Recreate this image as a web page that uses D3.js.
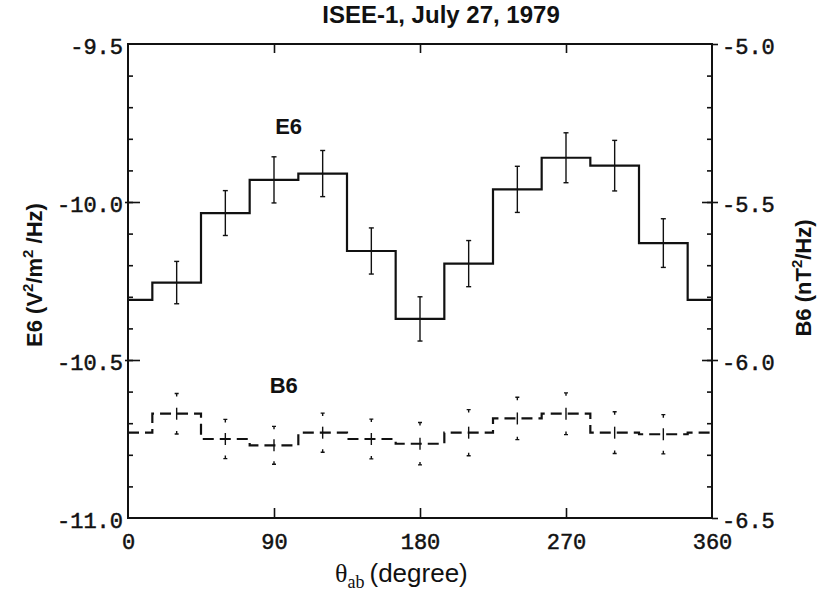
<!DOCTYPE html>
<html>
<head>
<meta charset="UTF-8">
<title>ISEE-1, July 27, 1979</title>
<script src="https://d3js.org/d3.v7.min.js"></script>
<style>
  body { margin: 0; background: #fff; }
  svg { display: block; }
  .tick text { font-family: "Liberation Mono", "Courier New", monospace; font-size: 22px; fill: #111; stroke: #111; stroke-width: 0.5; }
  .tick line { stroke: #111; stroke-width: 1.6; }
  .domain { display: none; }
  .lbl { font-family: "Liberation Sans", Arial, sans-serif; font-weight: bold; fill: #111; }
</style>
</head>
<body>
<div id="chart"></div>
<script>
// bin centres (degrees), each bin 30 degrees wide; the 0 bin wraps to 360
const angles = [0, 30, 60, 90, 120, 150, 180, 210, 240, 270, 300, 330];
// E6, log10 V^2/m^2/Hz (left axis)
const e6    = [-10.31, -10.255, -10.035, -9.93, -9.91, -10.155, -10.37, -10.195, -9.96, -9.86, -9.885, -10.13];
const e6Err = [null, 0.067, 0.071, 0.073, 0.073, 0.073, 0.070, 0.073, 0.073, 0.079, 0.080, 0.077];
// B6, log10 nT^2/Hz (right axis)
const b6    = [-6.23, -6.17, -6.25, -6.27, -6.23, -6.25, -6.265, -6.23, -6.185, -6.17, -6.23, -6.235];
const b6Err = [null, 0.064, 0.062, 0.060, 0.062, 0.063, 0.067, 0.073, 0.067, 0.066, 0.066, 0.062];

const xTicks = [0, 90, 180, 270, 360];
const leftTicks = [-11.0, -10.5, -10.0, -9.5];
const rightTicks = [-6.5, -6.0, -5.5, -5.0];

const W = 818, H = 594;
const m = { left: 128, right: 712, top: 44, bottom: 518 };

const x = d3.scaleLinear([0, 360], [m.left, m.right]);
const yL = d3.scaleLinear([-11.0, -9.5], [m.bottom, m.top]);
const yR = d3.scaleLinear([-6.5, -5.0], [m.bottom, m.top]);

const svg = d3.select("#chart").append("svg")
  .attr("width", W).attr("height", H);

const fmt = d => d.toFixed(1);
const minor = (lo, hi) => d3.range(0, 16).map(i => +(lo + i * 0.1).toFixed(2)).filter(v => v > lo && v < hi);

// left axis: inner minor + major ticks, outside labels
svg.append("g").attr("transform", `translate(${m.left},0)`)
  .call(d3.axisRight(yL).tickValues(minor(-11, -9.5)).tickSize(5).tickFormat(""));
svg.append("g").attr("transform", `translate(${m.left - 3},0)`)
  .call(d3.axisRight(yL).tickValues([-10.5, -10.0]).tickSize(15).tickFormat(""));
svg.append("g").attr("transform", `translate(${m.left},0)`)
  .call(d3.axisLeft(yL).tickValues(leftTicks).tickSize(0).tickPadding(5).tickFormat(fmt))
  .selectAll("text").attr("dy", "0.45em");

// right axis
svg.append("g").attr("transform", `translate(${m.right},0)`)
  .call(d3.axisLeft(yR).tickValues(minor(-6.5, -5.0)).tickSize(5).tickFormat(""));
svg.append("g").attr("transform", `translate(${m.right},0)`)
  .call(d3.axisLeft(yR).tickValues([-6.0, -5.5]).tickSize(10).tickFormat(""));
svg.append("g").attr("transform", `translate(${m.right},0)`)
  .call(d3.axisRight(yR).tickValues(rightTicks).tickSize(6).tickPadding(4).tickFormat(fmt))
  .selectAll("text").attr("dy", "0.45em");

// bottom & top axes
svg.append("g").attr("transform", `translate(0,${m.bottom})`)
  .call(d3.axisTop(x).tickValues([90, 180, 270]).tickSize(10).tickFormat(""));
svg.append("g").attr("transform", `translate(0,${m.top})`)
  .call(d3.axisBottom(x).tickValues([90, 180, 270]).tickSize(9).tickFormat(""));
svg.append("g").attr("transform", `translate(0,${m.bottom})`)
  .call(d3.axisBottom(x).tickValues(xTicks).tickSize(0).tickPadding(15).tickFormat(d3.format("d")));

// frame
svg.append("rect")
  .attr("x", m.left).attr("y", m.top)
  .attr("width", m.right - m.left).attr("height", m.bottom - m.top)
  .attr("fill", "none").attr("stroke", "#111").attr("stroke-width", 2);

// step outline: edges 0,15,45,...,345,360
function steps(vals) {
  const pts = angles.map((a, i) => [i === 0 ? 0 : a - 15, vals[i]]);
  pts.push([345, vals[0]], [360, vals[0]]);
  return pts;
}

const lineL = d3.line().x(d => x(d[0])).y(d => yL(d[1])).curve(d3.curveStepAfter);
const lineR = d3.line().x(d => x(d[0])).y(d => yR(d[1])).curve(d3.curveStepAfter);

svg.append("path").datum(steps(e6))
  .attr("d", lineL).attr("fill", "none")
  .attr("stroke", "#111").attr("stroke-width", 2.2);

svg.append("path").datum(steps(b6))
  .attr("d", lineR).attr("fill", "none")
  .attr("stroke", "#111").attr("stroke-width", 2.2)
  .attr("stroke-dasharray", "11,6");

// E6 error bars
const eb = angles.map((a, i) => ({ a, v: e6[i], e: e6Err[i] })).filter(d => d.e != null);
const gE = svg.append("g").attr("stroke", "#111").attr("stroke-width", 1.4);
gE.selectAll(".bar").data(eb).join("line")
  .attr("x1", d => x(d.a)).attr("x2", d => x(d.a))
  .attr("y1", d => yL(d.v - d.e)).attr("y2", d => yL(d.v + d.e));
gE.selectAll(".capT").data(eb).join("line")
  .attr("x1", d => x(d.a) - 2.5).attr("x2", d => x(d.a) + 2.5)
  .attr("y1", d => yL(d.v + d.e)).attr("y2", d => yL(d.v + d.e));
gE.selectAll(".capB").data(eb).join("line")
  .attr("x1", d => x(d.a) - 2.5).attr("x2", d => x(d.a) + 2.5)
  .attr("y1", d => yL(d.v - d.e)).attr("y2", d => yL(d.v - d.e));

// B6 error bars (broken: centre stroke + small end marks)
const bb = angles.map((a, i) => ({ a, v: b6[i], e: b6Err[i] })).filter(d => d.e != null);
const gB = svg.append("g").attr("stroke", "#111").attr("stroke-width", 1.4);
gB.selectAll(".mid").data(bb).join("line")
  .attr("x1", d => x(d.a)).attr("x2", d => x(d.a))
  .attr("y1", d => yR(d.v) - 6).attr("y2", d => yR(d.v) + 6);
gB.selectAll(".topS").data(bb).join("path")
  .attr("fill", "none")
  .attr("d", d => {
    const cx = x(d.a), cy = yR(d.v + d.e);
    return `M${cx - 2},${cy}H${cx + 2}M${cx},${cy}V${cy + 3}`;
  });
gB.selectAll(".botS").data(bb).join("path")
  .attr("fill", "none")
  .attr("d", d => {
    const cx = x(d.a), cy = yR(d.v - d.e);
    return `M${cx - 2},${cy}H${cx + 2}M${cx},${cy}V${cy - 3}`;
  });

// titles and labels
svg.append("text").attr("class", "lbl")
  .attr("x", 441).attr("y", 23).attr("text-anchor", "middle")
  .attr("font-size", 24).text("ISEE-1, July 27, 1979");

svg.append("text").attr("class", "lbl")
  .attr("x", x(99)).attr("y", 134).attr("text-anchor", "middle")
  .attr("font-size", 22).text("E6");
svg.append("text").attr("class", "lbl")
  .attr("x", x(96)).attr("y", 393).attr("text-anchor", "middle")
  .attr("font-size", 22).text("B6");

const yl = svg.append("text").attr("class", "lbl")
  .attr("transform", "translate(42,275) rotate(-90)")
  .attr("text-anchor", "middle").attr("font-size", 22);
yl.append("tspan").text("E6 (V");
yl.append("tspan").attr("dy", -9).attr("font-size", 15).text("2");
yl.append("tspan").attr("dy", 9).text("/m");
yl.append("tspan").attr("dy", -9).attr("font-size", 15).text("2");
yl.append("tspan").attr("dy", 9).text(" /Hz)");

const yr = svg.append("text").attr("class", "lbl")
  .attr("transform", "translate(811,278) rotate(-90)")
  .attr("text-anchor", "middle").attr("font-size", 22);
yr.append("tspan").text("B6 (nT");
yr.append("tspan").attr("dy", -9).attr("font-size", 15).text("2");
yr.append("tspan").attr("dy", 9).text("/Hz)");

const xl = svg.append("text")
  .attr("x", 335).attr("y", 582).attr("fill", "#111");
xl.append("tspan").attr("font-family", "Liberation Serif, serif").attr("font-size", 26).text("θ");
xl.append("tspan").attr("font-family", "Liberation Serif, serif").attr("font-size", 18).attr("dy", 6).text("ab");
xl.append("tspan").attr("font-family", "Liberation Sans, Arial, sans-serif").attr("font-size", 26).attr("dy", -6).attr("dx", 5).text("(degree)");
</script>
</body>
</html>
